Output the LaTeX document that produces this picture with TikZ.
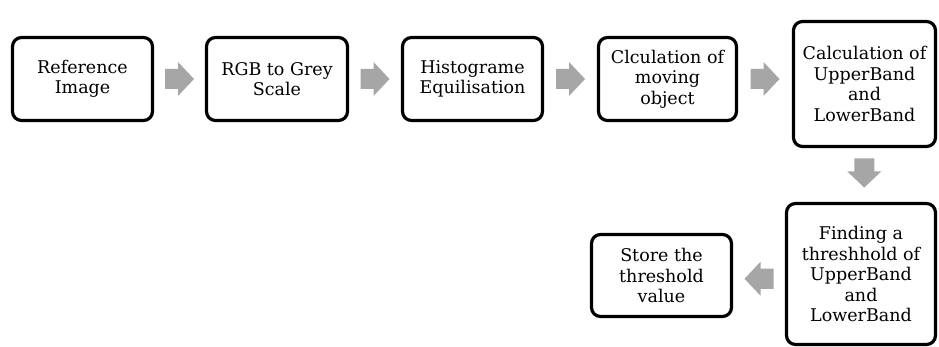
\documentclass[tikz,border=0pt]{standalone}
\usepackage{fontspec}
\setmainfont{DejaVu Serif}
\usetikzlibrary{calc}
\definecolor{arrowgrey}{HTML}{A6A6A6}
\tikzset{
  stepbox/.style={draw=black, line width=3.2pt, rounded corners=9pt, rectangle,
    align=center, inner sep=0pt, font=\fontsize{17.5}{20.5}\selectfont},
  blkarrow/.pic={
    \fill[arrowgrey] (-14.5,-10) -- (-1.5,-10) -- (-1.5,-17) -- (14.5,0)
      -- (-1.5,17) -- (-1.5,10) -- (-14.5,10) -- cycle;
  }
}
\begin{document}
\begin{tikzpicture}[x=1pt,y=-1pt]
\useasboundingbox (0,0) rectangle (939,347);
\node[stepbox, minimum width=140pt, minimum height=83pt] (b1) at (82.5,79) {Reference\\Image};
\node[stepbox, minimum width=141pt, minimum height=83pt] (b2) at (277,79) {RGB to Grey\\Scale};
\node[stepbox, minimum width=140pt, minimum height=83pt] (b3) at (472.5,79) {Histograme\\Equilisation};
\node[stepbox, minimum width=138pt, minimum height=83pt] (b4) at (667.5,79) {Clculation of\\moving\\object};
\node[stepbox, minimum width=142pt, minimum height=125pt] (b5) at (864.5,84) {Calculation of\\UpperBand\\and\\LowerBand};
\node[stepbox, minimum width=149pt, minimum height=141pt] (b6) at (861,274) {Finding a\\threshhold of\\UpperBand\\and\\LowerBand};
\node[stepbox, minimum width=140pt, minimum height=82pt] (b7) at (661.5,275.5) {Store the\\threshold\\value};
\coordinate (m1) at ($(b1.east)!0.5!(b2.west)$);
\coordinate (m2) at ($(b2.east)!0.5!(b3.west)$);
\coordinate (m3) at ($(b3.east)!0.5!(b4.west)$);
\coordinate (m4) at ($(b4.east)!0.5!(b5.west |- b4.east)$);
\coordinate (m5) at ($(b5.south)!0.5!(b6.north)+(1.5,-2)$);
\coordinate (m6) at ($(b6.west)!0.5!(b7.east)+(0,4)$);
\pic at (m1) {blkarrow};
\pic at (m2) {blkarrow};
\pic at (m3) {blkarrow};
\pic at (m4) {blkarrow};
\pic[rotate=-90] at (m5) {blkarrow};
\pic[rotate=180] at (m6) {blkarrow};
\end{tikzpicture}
\end{document}
